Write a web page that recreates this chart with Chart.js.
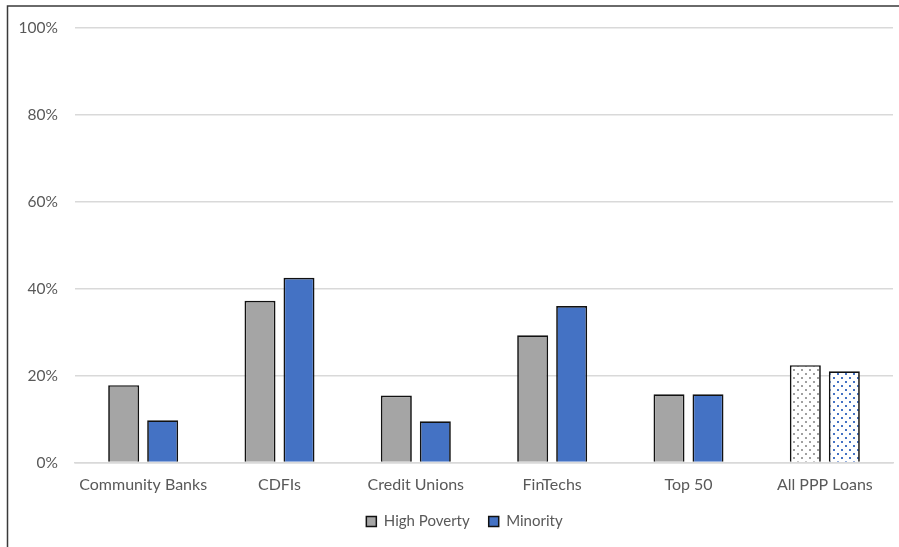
<!DOCTYPE html>
<html>
<head>
<meta charset="utf-8">
<script src="https://cdn.jsdelivr.net/npm/chart.js@4"></script>
<style>
html,body{margin:0;padding:0;background:#fff;}
#wrap{width:899px;height:547px;position:relative;}
</style>
</head>
<body>
<div id="wrap"><canvas id="c" width="899" height="547"></canvas></div>
<script>
const categories = ["Community Banks", "CDFIs", "Credit Unions", "FinTechs", "Top 50", "All PPP Loans"];
const highPoverty = [17.8, 37.2, 15.4, 29.3, 15.7, 22.4];
const minority = [9.7, 42.5, 9.5, 36.0, 15.7, 21.0];
const yTicks = [0, 20, 40, 60, 80, 100];
const seriesNames = ["High Poverty", "Minority"];

function dotPattern(color) {
  const t = document.createElement('canvas');
  t.width = 8; t.height = 8;
  const g = t.getContext('2d');
  g.fillStyle = '#ffffff';
  g.fillRect(0, 0, 8, 8);
  g.fillStyle = color;
  g.fillRect(1, 1, 2, 2);
  g.fillRect(5, 5, 2, 2);
  return g.createPattern(t, 'repeat');
}
const GRAY = '#A5A5A5', BLUE = '#4472C4';
const grayPat = dotPattern('#A0A0A0');
const bluePat = dotPattern('#4472C4');
const fillsFor = (solid, pat) => categories.map((c, i) => i === categories.length - 1 ? pat : solid);

const frame = {
  id: 'frame',
  afterDraw(chart) {
    const ctx = chart.ctx;
    ctx.save();
    ctx.strokeStyle = '#3a3a3a';
    ctx.lineWidth = 1.5;
    ctx.beginPath();
    ctx.moveTo(7.5, 547);
    ctx.lineTo(7.5, 6);
    ctx.lineTo(899, 6);
    ctx.stroke();
    ctx.restore();
  }
};

const legendShift = {
  id: 'legendShift',
  afterUpdate(chart) {
    const lg = chart.legend;
    if (!lg) return;
    lg.left += 18;
    lg.right += 18;
    if (lg.adjustHitBoxes) lg.adjustHitBoxes();
  }
};

const FONT = "Lato, 'Open Sans', sans-serif";

new Chart(document.getElementById('c'), {
  type: 'bar',
  data: {
    labels: categories,
    datasets: [
      { label: seriesNames[0], data: highPoverty, backgroundColor: fillsFor(GRAY, grayPat), borderColor: '#111', borderWidth: 1.7, borderSkipped: 'bottom' },
      { label: seriesNames[1], data: minority, backgroundColor: fillsFor(BLUE, bluePat), borderColor: '#111', borderWidth: 1.7, borderSkipped: 'bottom' }
    ]
  },
  options: {
    responsive: false,
    animation: false,
    devicePixelRatio: 1,
    layout: { padding: { top: 28, right: 6, left: 0, bottom: 8 } },
    datasets: { bar: { categoryPercentage: 0.572, barPercentage: 0.795 } },
    plugins: {
      legend: {
        position: 'bottom',
        labels: {
          font: { family: FONT, size: 15 },
          color: '#595959',
          boxWidth: 10, boxHeight: 10,
          padding: 19,
          generateLabels(chart) {
            return chart.data.datasets.map((d, i) => ({
              text: d.label,
              fillStyle: i === 0 ? GRAY : BLUE,
              strokeStyle: '#111',
              lineWidth: 1.5,
              fontColor: '#595959',
              datasetIndex: i,
              hidden: false
            }));
          }
        }
      },
      tooltip: { enabled: false }
    },
    scales: {
      x: {
        afterFit(s) { s.height = 32.5; },
        grid: { display: false, drawTicks: false },
        border: { display: true, color: '#d9d9d9', width: 1.5 },
        ticks: { font: { family: FONT, size: 16 }, color: '#595959', padding: 13, maxRotation: 0 }
      },
      y: {
        min: 0, max: 100,
        afterFit(s) { s.width = 75; },
        afterBuildTicks(s) { s.ticks = yTicks.map(v => ({ value: v })); },
        grid: { color: '#d9d9d9', lineWidth: 1.5, drawTicks: false },
        border: { display: false },
        ticks: { font: { family: FONT, size: 15.5 }, color: '#595959', padding: 17, callback: v => v + '%' }
      }
    }
  },
  plugins: [frame, legendShift]
});
</script>
</body>
</html>
